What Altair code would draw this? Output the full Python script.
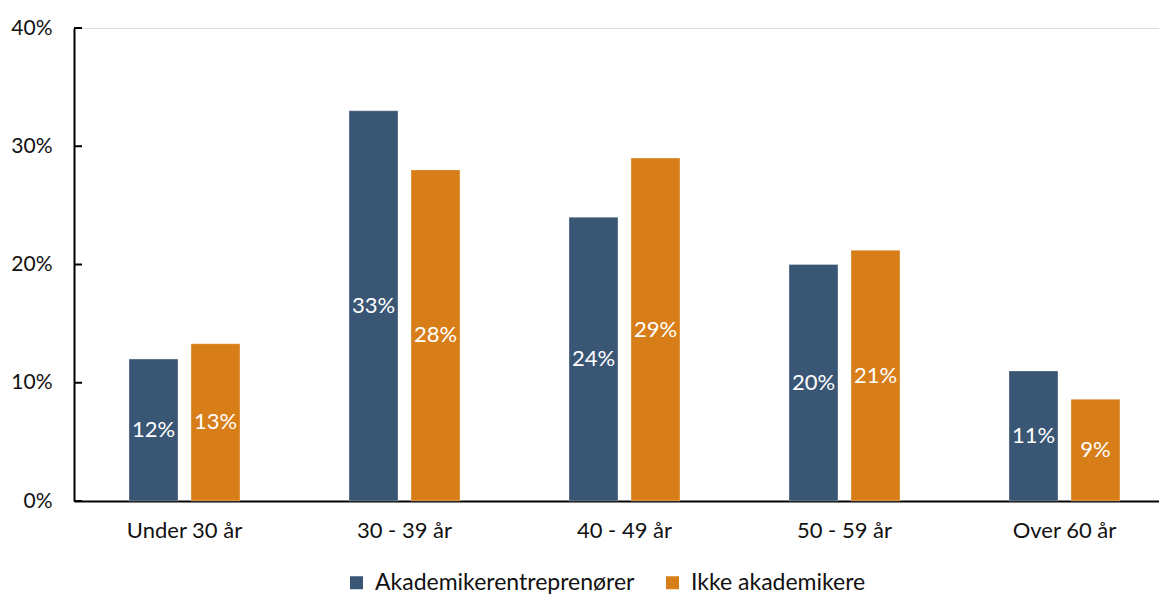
import altair as alt
import pandas as pd

categories = ["Under 30 år", "30 - 39 år", "40 - 49 år", "50 - 59 år", "Over 60 år"]
series = ["Akademikerentreprenører", "Ikke akademikere"]
akademiker = [12.0, 33.0, 24.0, 20.0, 11.0]
ikke_akademiker = [13.3, 28.0, 29.0, 21.2, 8.6]
y_ticks = [0.0, 0.1, 0.2, 0.3, 0.4]
colors = ["#3A5675", "#D87E18"]

rows = []
for c, a, b in zip(categories, akademiker, ikke_akademiker):
    rows.append({"Kategori": c, "Gruppe": series[0], "Verdi": a / 100})
    rows.append({"Kategori": c, "Gruppe": series[1], "Verdi": b / 100})
df = pd.DataFrame(rows)
ticks_df = pd.DataFrame({"t": y_ticks})

FONT = "Lato"

x_enc = alt.X(
    "Kategori:N",
    sort=categories,
    scale=alt.Scale(paddingInner=0.4955, paddingOuter=0.2137, align=0.585),
    axis=alt.Axis(
        title=None, labelAngle=0, ticks=False, domainColor="black", domainWidth=2,
        labelFontSize=22, labelColor="#111111", labelPadding=19, labelFont=FONT,
    ),
)
xoff = alt.XOffset("Gruppe:N", sort=series, scale=alt.Scale(paddingInner=0.21, paddingOuter=0))
y_enc = alt.Y(
    "Verdi:Q",
    scale=alt.Scale(domain=[0, 0.4], nice=False),
    axis=alt.Axis(
        title=None, format=".0%", values=y_ticks, grid=False, ticks=False,
        domainColor="black", domainWidth=2, labelFontSize=21, labelColor="#111111",
        labelPadding=22, labelFont=FONT,
    ),
)

base = alt.Chart(df)

bars = base.mark_bar(stroke="white", strokeWidth=0.6, strokeOpacity=0.5).encode(
    x=x_enc,
    xOffset=xoff,
    y=y_enc,
    color=alt.Color(
        "Gruppe:N",
        sort=series,
        scale=alt.Scale(domain=series, range=colors),
        legend=alt.Legend(
            title=None, orient="none", direction="horizontal", legendX=271, legendY=543,
            symbolType="square", symbolSize=169, symbolStrokeWidth=0, labelFontSize=23,
            labelFont=FONT, labelColor="#111111", columnPadding=26, labelOffset=7,
            labelLimit=0,
        ),
    ),
)

labels = base.mark_text(color="white", fontSize=22, font=FONT, baseline="middle").encode(
    x=alt.X("Kategori:N", sort=categories),
    xOffset=alt.XOffset("Gruppe:N", sort=series),
    y=alt.Y("mid:Q"),
    text=alt.Text("Verdi:Q", format=".0%"),
).transform_calculate(mid="datum.Verdi / 2")

tick_marks = alt.Chart(ticks_df).mark_rule(color="black", strokeWidth=2).encode(
    y=alt.Y("t:Q"),
    x=alt.value(0),
    x2=alt.value(8),
)

chart = (
    alt.layer(bars, labels, tick_marks)
    .properties(
        width=1085,
        height=473,
        autosize=alt.AutoSizeParams(type="none"),
        padding={"left": 74, "top": 28, "right": 0, "bottom": 93},
    )
    .configure_view(stroke=None)
    .configure(background="white")
)

chart.save("out.html", embed_options={"renderer": "svg", "actions": False})
